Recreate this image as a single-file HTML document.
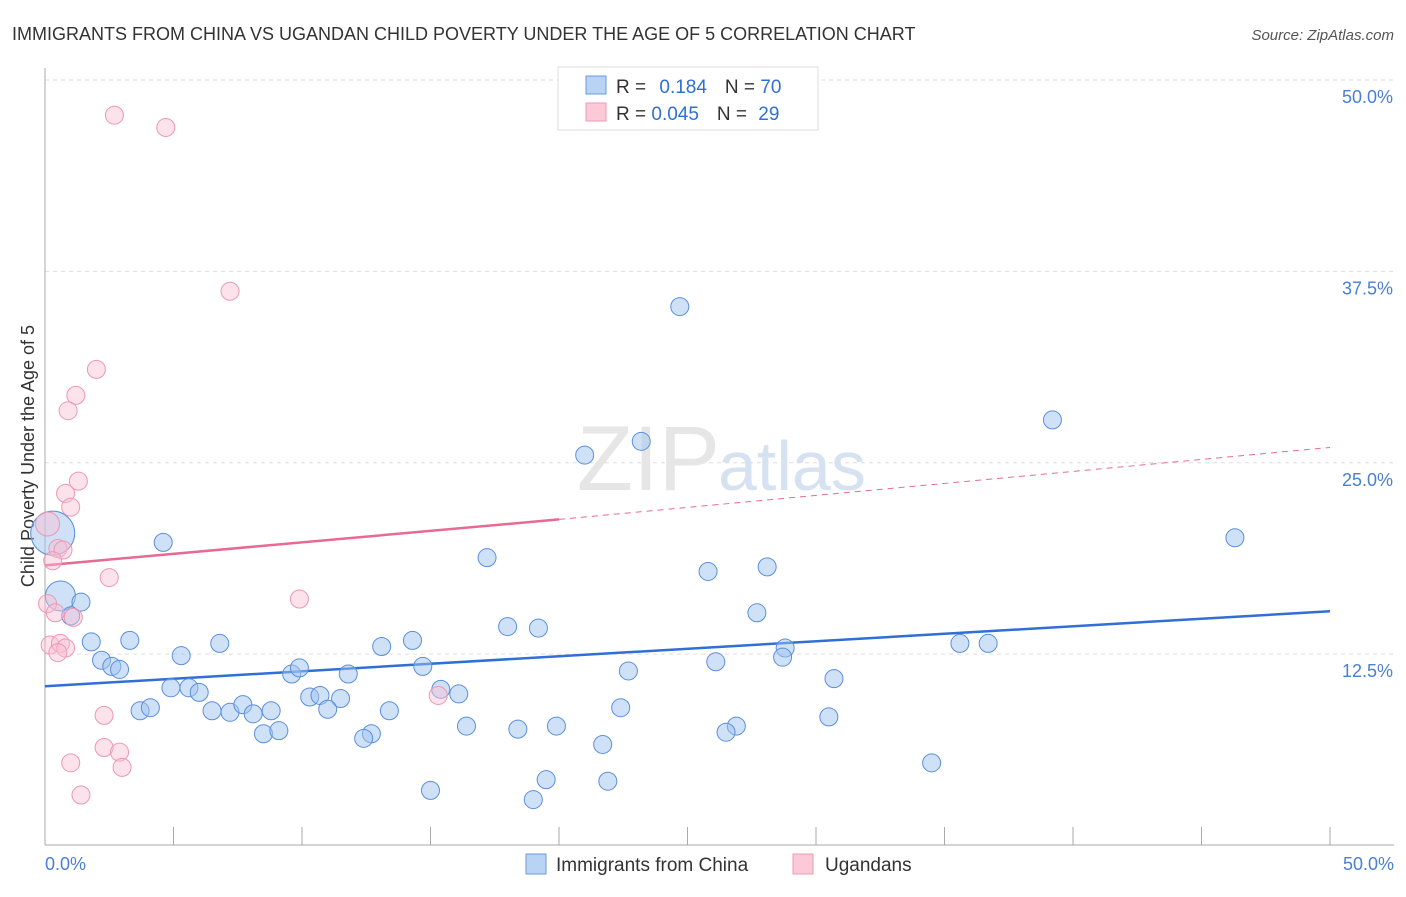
<!DOCTYPE html>
<html><head><meta charset="utf-8"><style>
body{margin:0;background:#fff;font-family:"Liberation Sans",sans-serif;}
svg text{font-family:"Liberation Sans",sans-serif;}
</style></head><body>
<svg width="1406" height="892" viewBox="0 0 1406 892">
<text x="12" y="40" font-size="18" fill="#333">IMMIGRANTS FROM CHINA VS UGANDAN CHILD POVERTY UNDER THE AGE OF 5 CORRELATION CHART</text>
<text x="1394" y="40" font-size="15" fill="#555" font-style="italic" text-anchor="end">Source: ZipAtlas.com</text>
<g id="grid"></g>
<text x="720" y="490" font-size="92" fill="#e6e6e6" text-anchor="end" font-family="Liberation Serif">ZIP</text>
<text x="718" y="490" font-size="70" fill="#d6e2f2">atlas</text>
<line x1="45" y1="68" x2="45" y2="845" stroke="#aaa"/>
<line x1="45" y1="845" x2="1394" y2="845" stroke="#aaa"/>
<text transform="translate(34,456) rotate(-90)" font-size="18" fill="#333" text-anchor="middle">Child Poverty Under the Age of 5</text>
<text x="45" y="870" font-size="18" fill="#4a7fd4">0.0%</text>
<text x="1394" y="870" font-size="18" fill="#4a7fd4" text-anchor="end">50.0%</text>
<g id="trends"></g>
<g id="pts"></g>
<g>
<rect x="558" y="67" width="260" height="63" fill="#fff" stroke="#ddd"/>
<rect x="586" y="76" width="20" height="18" fill="#b9d3f5" stroke="#6a9ae0"/>
<rect x="586" y="103" width="20" height="18" fill="#fbc9d8" stroke="#ef99b3"/>
<text x="616" y="93" font-size="19" fill="#333">R = <tspan fill="#2f6fd6" dx="8">0.184</tspan><tspan dx="18" fill="#333">N = </tspan><tspan fill="#2f6fd6">70</tspan></text>
<text x="616" y="120" font-size="19" fill="#333">R = <tspan fill="#2f6fd6">0.045</tspan><tspan dx="18" fill="#333">N = </tspan><tspan fill="#2f6fd6" dx="6">29</tspan></text>
</g>
<g>
<rect x="526" y="854" width="20" height="20" fill="#b9d3f5" stroke="#6a9ae0"/>
<text x="556" y="871" font-size="19" fill="#333">Immigrants from China</text>
<rect x="793" y="854" width="20" height="20" fill="#fbc9d8" stroke="#ef99b3"/>
<text x="825" y="871" font-size="19" fill="#333">Ugandans</text>
</g>
</svg>
<script>
const yTicks=[12.5,25,37.5,50];
const yTickLabels=["12.5%","25.0%","37.5%","50.0%"];
const xTicks=[0,5,10,15,20,25,30,35,40,45,50];
const chinaX=[24.7,39.2,23.2,21.0,4.6,46.3,17.2,25.8,28.1,0.6,1.4,1.0,27.7,18.0,19.2,1.8,3.3,6.8,14.3,13.1,35.6,36.7,28.8,5.3,2.2,28.7,26.1,2.6,2.9,14.7,22.7,9.6,9.9,11.8,30.7,4.9,5.6,6.0,15.4,16.1,10.3,10.7,11.5,3.7,4.1,6.5,7.2,7.7,8.1,8.8,11.0,13.4,22.4,30.5,16.4,18.4,19.9,26.9,26.5,8.5,9.1,12.7,12.4,21.7,34.5,19.5,21.9,15.0,19.0,0.3];
const chinaY=[35.2,27.8,26.4,25.5,19.8,20.1,18.8,17.9,18.2,16.3,15.9,15.0,15.2,14.3,14.2,13.3,13.4,13.2,13.4,13.0,13.2,13.2,12.9,12.4,12.1,12.3,12.0,11.7,11.5,11.7,11.4,11.2,11.6,11.2,10.9,10.3,10.3,10.0,10.2,9.9,9.7,9.8,9.6,8.8,9.0,8.8,8.7,9.2,8.6,8.8,8.9,8.8,9.0,8.4,7.8,7.6,7.8,7.8,7.4,7.3,7.5,7.3,7.0,6.6,5.4,4.3,4.2,3.6,3.0,20.4];
const chinaR=[9,9,9,9,9,9,9,9,9,15,9,9,9,9,9,9,9,9,9,9,9,9,9,9,9,9,9,9,9,9,9,9,9,9,9,9,9,9,9,9,9,9,9,9,9,9,9,9,9,9,9,9,9,9,9,9,9,9,9,9,9,9,9,9,9,9,9,9,9,22];
const ugX=[2.7,4.7,7.2,2.0,1.2,0.9,1.3,0.8,1.0,0.1,0.5,0.7,0.3,2.5,9.9,0.1,0.4,1.1,0.2,0.6,0.8,0.5,15.3,2.3,2.3,2.9,3.0,1.0,1.4];
const ugY=[47.7,46.9,36.2,31.1,29.4,28.4,23.8,23.0,22.1,21.0,19.4,19.3,18.6,17.5,16.1,15.8,15.2,14.9,13.1,13.2,12.9,12.6,9.8,8.5,6.4,6.1,5.1,5.4,3.3];
const ugR=[9,9,9,9,9,9,9,9,9,12,9,9,9,9,9,9,9,9,9,9,9,9,9,9,9,9,9,9,9];
const blueLine=[[0,10.4],[50,15.3]];
const pinkLine=[[0,18.3],[20,21.3],[50,26.0]];
const NS="http://www.w3.org/2000/svg";
const sx=v=>45+v*25.7, sy=v=>845.5-v*15.31;
function mk(t,a,p){const e=document.createElementNS(NS,t);for(const k in a)e.setAttribute(k,a[k]);p.appendChild(e);return e;}
const grid=document.getElementById('grid');
yTicks.forEach((v,i)=>{
 const l=mk('line',{x1:45,x2:1394,y1:sy(v),y2:sy(v),stroke:'#ddd','stroke-dasharray':'4,4'},grid);
 
 
 const t=mk('text',{x:1393,y:sy(v)+23,'font-size':18,fill:'#4a7fd4','text-anchor':'end'},grid);
 t.textContent=yTickLabels[i];
 
 
});
xTicks.forEach(v=>{
 const l=mk('line',{x1:sx(v),x2:sx(v),y1:845,y2:827,stroke:'#aaa'},grid);
 
 
});
const tr=document.getElementById('trends');
let b=mk('line',{x1:sx(blueLine[0][0]),y1:sy(blueLine[0][1]),x2:sx(blueLine[1][0]),y2:sy(blueLine[1][1]),stroke:'#2f6fd6','stroke-width':2.5},tr);


let p1=mk('line',{x1:sx(pinkLine[0][0]),y1:sy(pinkLine[0][1]),x2:sx(pinkLine[1][0]),y2:sy(pinkLine[1][1]),stroke:'#e86a93','stroke-width':2.5},tr);


let p2=mk('line',{x1:sx(pinkLine[1][0]),y1:sy(pinkLine[1][1]),x2:sx(pinkLine[2][0]),y2:sy(pinkLine[2][1]),stroke:'#e86a93','stroke-width':1,'stroke-dasharray':'6,5'},tr);


const pts=document.getElementById('pts');
chinaX.forEach((x,i)=>{
 const c=mk('circle',{cx:sx(x),cy:sy(chinaY[i]),r:chinaR[i],fill:'rgba(160,196,240,0.5)',stroke:'#5b8fdc','stroke-width':1},pts);
 
 
});
ugX.forEach((x,i)=>{
 const c=mk('circle',{cx:sx(x),cy:sy(ugY[i]),r:ugR[i],fill:'rgba(248,190,210,0.45)',stroke:'#ec98b3','stroke-width':1},pts);
 
 
});
</script>
</body></html>
